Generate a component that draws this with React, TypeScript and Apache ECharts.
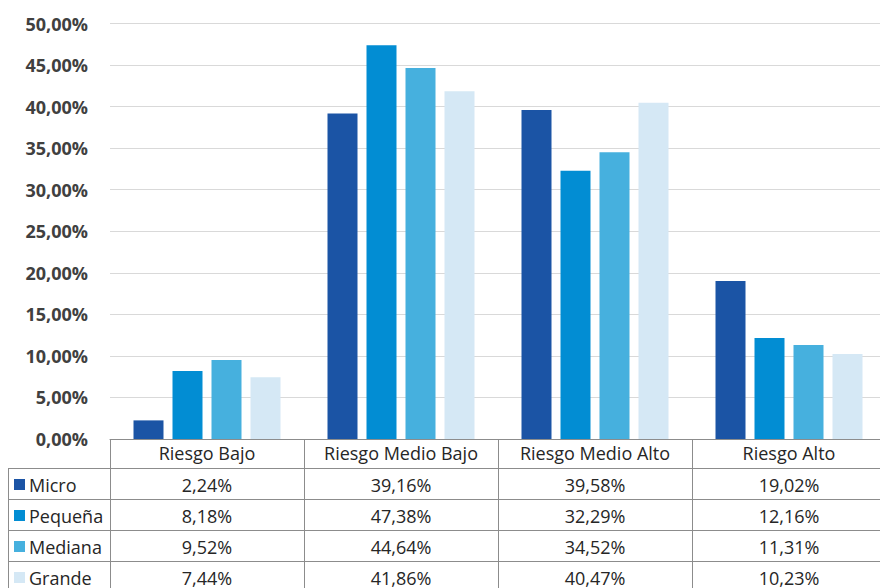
import React, { useEffect, useRef } from "react";
import * as echarts from "echarts";

const categories = ["Riesgo Bajo", "Riesgo Medio Bajo", "Riesgo Medio Alto", "Riesgo Alto"];
const seriesNames = ["Micro", "Pequeña", "Mediana", "Grande"];
const micro = [2.24, 39.16, 39.58, 19.02];
const pequena = [8.18, 47.38, 32.29, 12.16];
const mediana = [9.52, 44.64, 34.52, 11.31];
const grande = [7.44, 41.86, 40.47, 10.23];
const seriesValues = [micro, pequena, mediana, grande];
const colors = ["#1B54A5", "#028DD3", "#46B0DE", "#D5E8F5"];

const FONT = "'Open Sans', 'Noto Sans', sans-serif";
const fmt = (v: number) => v.toFixed(2).replace(".", ",") + "%";

export default function App() {
  const ref = useRef<HTMLDivElement>(null);
  useEffect(() => {
    if (!ref.current) return;
    const chart = echarts.init(ref.current, null, { renderer: "svg" });
    const HEADER_H = 29;
    const ROW_H = 31;
    chart.setOption({
      animation: false,
      backgroundColor: "#ffffff",
      grid: { left: 110, right: 0, top: 23.5, bottom: 149 },
      xAxis: {
        type: "category",
        data: categories,
        axisLine: { show: true, lineStyle: { color: "#8C8C8C", width: 1 } },
        axisTick: { show: true, length: HEADER_H, lineStyle: { color: "#8C8C8C", width: 1 } },
        axisLabel: { interval: 0, hideOverlap: false, fontFamily: FONT, fontSize: 18, color: "#262626", margin: 5 },
      },
      yAxis: {
        type: "value",
        min: 0,
        max: 50,
        interval: 5,
        axisLine: { show: false },
        axisTick: { show: false },
        axisLabel: {
          fontFamily: FONT,
          fontSize: 18,
          fontWeight: "bold",
          color: "#404040",
          margin: 22,
          formatter: (v: number) => fmt(v),
        },
        splitLine: { lineStyle: { color: "#D9D9D9", width: 1 } },
      },
      series: seriesValues.map((vals, i) => ({
        name: seriesNames[i],
        type: "bar",
        data: vals,
        barWidth: 30,
        barGap: "30%",
        itemStyle: { color: colors[i] },
      })),
    });

    const c0 = chart.convertToPixel({ xAxisIndex: 0 }, 0) as number;
    const c1 = chart.convertToPixel({ xAxisIndex: 0 }, 1) as number;
    const band = c1 - c0;
    const axisY = chart.convertToPixel({ yAxisIndex: 0 }, 0) as number;
    const left0 = c0 - band / 2;
    const bounds = categories.map((_, i) => left0 + i * band);
    bounds.push(left0 + categories.length * band);
    const tableLeft = 8;
    const rowTop = axisY + HEADER_H;
    const nRows = seriesNames.length;
    const bottom = rowTop + nRows * ROW_H;
    const lineStyle = { stroke: "#8C8C8C", lineWidth: 1 };
    const els: any[] = [];
    for (let r = 0; r <= nRows; r++) {
      const y = Math.round(rowTop + r * ROW_H) + 0.5;
      els.push({ type: "line", shape: { x1: tableLeft, y1: y, x2: bounds[bounds.length - 1], y2: y }, style: lineStyle, silent: true });
    }
    [tableLeft, ...bounds].forEach((x) => {
      const xx = Math.round(x) + 0.5;
      els.push({ type: "line", shape: { x1: xx, y1: rowTop, x2: xx, y2: bottom }, style: lineStyle, silent: true });
    });
    seriesNames.forEach((name, r) => {
      const cy = rowTop + r * ROW_H + ROW_H / 2 + 1;
      els.push({ type: "rect", shape: { x: 14, y: cy - 5.5, width: 11, height: 11 }, style: { fill: colors[r] }, silent: true });
      els.push({
        type: "text",
        x: 29,
        y: cy,
        style: { text: name, fontFamily: FONT, fontSize: 18, fill: "#262626", textAlign: "left", textVerticalAlign: "middle" },
        silent: true,
      });
      seriesValues[r].forEach((v, ci) => {
        const cx = chart.convertToPixel({ xAxisIndex: 0 }, ci) as number;
        els.push({
          type: "text",
          x: cx,
          y: cy,
          style: { text: fmt(v), fontFamily: FONT, fontSize: 18, fill: "#262626", textAlign: "center", textVerticalAlign: "middle" },
          silent: true,
        });
      });
    });
    chart.setOption({ graphic: { elements: els } });
    return () => chart.dispose();
  }, []);
  return (
    <div style={{ position: "fixed", left: 0, top: 0, width: 880, height: 588, overflow: "hidden", background: "#fff" }}>
      <div ref={ref} style={{ width: 886, height: 588 }} />
    </div>
  );
}
